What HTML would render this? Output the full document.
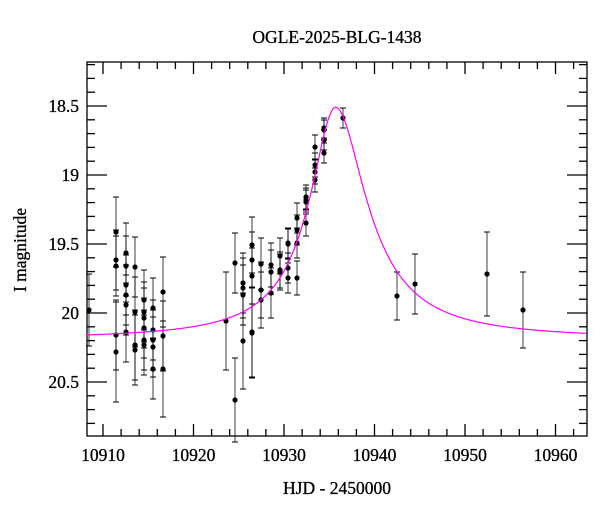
<!DOCTYPE html>
<html><head><style>
body{margin:0;background:#fff;}
svg text{font-family:"Liberation Serif",serif;fill:#000;stroke:#000;stroke-width:0.3;}
</style></head><body>
<svg id="s" width="600" height="512" xmlns="http://www.w3.org/2000/svg">
<text x="337" y="43" font-size="17.5" text-anchor="middle">OGLE-2025-BLG-1438</text>
<text x="337" y="494" font-size="17.5" text-anchor="middle">HJD - 2450000</text>
<text transform="translate(26,250) rotate(-90)" font-size="17.5" text-anchor="middle">I magnitude</text>
<g font-size="17.5" text-anchor="end">
<text x="79" y="112">18.5</text><text x="79" y="181">19</text><text x="79" y="250">19.5</text><text x="79" y="319">20</text><text x="79" y="388">20.5</text>
</g>
<g font-size="17.5" text-anchor="middle">
<text x="103" y="461">10910</text><text x="193.5" y="461">10920</text><text x="284" y="461">10930</text><text x="374.5" y="461">10940</text><text x="465" y="461">10950</text><text x="555.5" y="461">10960</text>
</g>
<g id="ax" stroke="#000" stroke-width="1.3" fill="none"></g>
<g id="dat"></g>
<path id="cv" stroke="#f0f" stroke-width="1.2" fill="none"/>
</svg>
<script>
var L=87,R=587,T=62,B=436;
var ax=document.getElementById('ax'),h='<rect x="'+L+'" y="'+T+'" width="'+(R-L)+'" height="'+(B-T)+'"/>';
function X(t){return 103+(t-10910)*9.05;}
function Y(m){return 106+(m-18.5)*138;}
for(var t=10910;t<=10962;t+=2){var x=X(t),l=(t%10==0)?12:7;h+='<line x1="'+x+'" y1="'+B+'" x2="'+x+'" y2="'+(B-l)+'"/><line x1="'+x+'" y1="'+T+'" x2="'+x+'" y2="'+(T+l)+'"/>';}
for(var k=-3;k<=23;k++){var m=18.5+k*0.1,y=Y(m);if(y<T+1||y>B-1)continue;var l=(k%5==0)?20:8;h+='<line x1="'+L+'" y1="'+y+'" x2="'+(L+l)+'" y2="'+y+'"/><line x1="'+R+'" y1="'+y+'" x2="'+(R-l)+'" y2="'+y+'"/>';}
ax.innerHTML=h;
var P=[[89,310,36],
[116,232,35],[116,260,30],[116,266,30],[116,335,35],[116,352,50],
[126,253,30],[126,266,30],[126,285,30],[126,295,30],[126,305,30],[126,332,30],
[135,267,30],[135,312,35],[135,345,35],[135,350,35],
[144,300,30],[144,312,30],[144,318,30],[144,328,30],[144,340,30],[144,345,30],
[153,308,30],[153,330,30],[153,340,30],[153,347,30],[153,369,30],
[163,292,35],[163,336,35],[163,369,48],
[226,321,49],[235,263,30],[235,400,42],
[243,283,30],[243,288,30],[243,295,30],[243,341,48],
[252,245,28],[252,260,28],[252,276,28],[252,332,45],[252,333,45],
[261,264,26],[261,290,28],[261,300,28],
[271,265,22],[271,272,22],[271,293,25],
[280,256,18],[280,270,18],[280,272,18],
[288,243,15],[288,244,15],[288,268,15],[288,278,15],
[297,218,15],[297,230,15],[297,243,15],[297,278,17],
[306,197,12],[306,200,12],[306,202,12],[306,223,13],
[315,147,12],[315,165,12],[315,172,12],[315,180,12],
[324,128,10],[324,130,10],[324,140,10],[324,153,10],
[343,118,10],[397,296,24],[415,284,30],[487,274,42],[523,310,38]];
var d='';
P.forEach(function(p){var x=p[0],y=p[1],e=p[2];
d+='<line x1="'+x+'" y1="'+(y-e)+'" x2="'+x+'" y2="'+(y+e)+'" stroke="#000" stroke-width="1" opacity="0.75"/>';
d+='<line x1="'+(x-3)+'" y1="'+(y-e)+'" x2="'+(x+3)+'" y2="'+(y-e)+'" stroke="#000" stroke-width="1"/>';
d+='<line x1="'+(x-3)+'" y1="'+(y+e)+'" x2="'+(x+3)+'" y2="'+(y+e)+'" stroke="#000" stroke-width="1"/>';
d+='<circle cx="'+x+'" cy="'+y+'" r="2.6" fill="#000"/>';});
document.getElementById('dat').innerHTML=d;
var c='';
for(var t=10908.2;t<=10963.5;t+=0.1){var dt=t-10935.7,w=dt<0?2.45:2.9;var f=1+3.7/(1+(dt/w)*(dt/w));var m=20.19-2.5*Math.log10(f);c+=(c?'L':'M')+X(t).toFixed(1)+','+Y(m).toFixed(1);}
document.getElementById('cv').setAttribute('d',c);
</script>
</body></html>
